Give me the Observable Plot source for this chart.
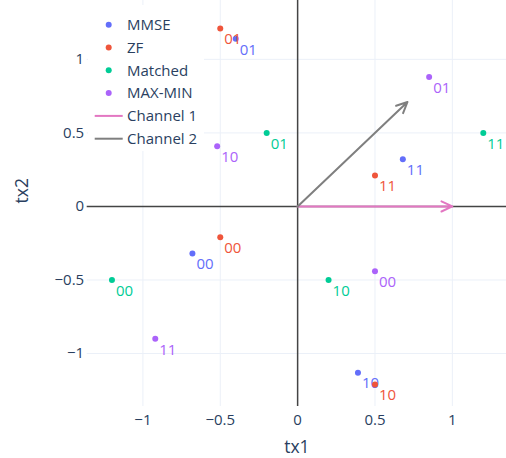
<!DOCTYPE html>
<html>
<head>
<meta charset="utf-8">
<script src="https://cdn.jsdelivr.net/npm/d3@7"></script>
<script src="https://cdn.jsdelivr.net/npm/@observablehq/plot@0.6"></script>
<style>
  html, body { margin: 0; padding: 0; background: #fff; }
  #wrap { position: relative; width: 506px; height: 458px; }
  #legend { position: absolute; left: 0; top: 0; }
</style>
</head>
<body>
<div id="wrap"></div>
<script>
// ---- data ----
const symbols = ["00", "01", "10", "11"];
const schemes = ["MMSE", "ZF", "Matched", "MAX-MIN"];
const schemeColors = ["#636efa", "#EF553B", "#00cc96", "#ab63fa"];

const mmseX = [-0.68, -0.40, 0.39, 0.68];
const mmseY = [-0.32, 1.14, -1.13, 0.32];
const zfX = [-0.50, -0.50, 0.50, 0.50];
const zfY = [-0.21, 1.21, -1.21, 0.21];
const matchedX = [-1.20, -0.20, 0.20, 1.20];
const matchedY = [-0.50, 0.50, -0.50, 0.50];
const maxminX = [0.50, 0.85, -0.52, -0.92];
const maxminY = [-0.44, 0.88, 0.41, -0.90];

const channels = ["Channel 1", "Channel 2"];
const channelColors = ["#e377c2", "#7f7f7f"];
const channelX = [1.0, 0.71];
const channelY = [0.0, 0.71];

const xTicks = [-1, -0.5, 0, 0.5, 1];
const yTicks = [-1, -0.5, 0, 0.5, 1];

// ---- build tables ----
const seriesX = [mmseX, zfX, matchedX, maxminX];
const seriesY = [mmseY, zfY, matchedY, maxminY];
const points = [];
schemes.forEach((s, i) => {
  symbols.forEach((lab, j) => {
    points.push({scheme: s, label: lab, x: seriesX[i][j], y: seriesY[i][j], color: schemeColors[i]});
  });
});
const arrows = channels.map((c, i) => ({name: c, x1: 0, y1: 0, x2: channelX[i], y2: channelY[i], color: channelColors[i]}));

const fmt = d => d < 0 ? "\u2212" + Math.abs(d) : String(d);
const textColor = "#2a3f5f";
const font = '"Open Sans", verdana, arial, sans-serif';

const seriesMarks = schemes.flatMap((s, i) => {
  const d = points.filter(p => p.scheme === s);
  return [
    Plot.dot(d, {x: "x", y: "y", r: 3, fill: "color", stroke: null}),
    Plot.text(d, {x: "x", y: "y", text: "label", fill: "color", dx: 4, dy: 11, textAnchor: "start", fontSize: 15})
  ];
});

const chart = Plot.plot({
  width: 506,
  height: 458,
  marginLeft: 86.7,
  marginRight: 0,
  marginTop: 0,
  marginBottom: 52,
  style: {fontFamily: font, fontSize: "15px", color: textColor, background: "white", overflow: "visible"},
  x: {domain: [-1.36, 1.35]},
  y: {domain: [-1.36, 1.40]},
  marks: [
    Plot.gridX(xTicks, {stroke: "#ebf0f8", strokeOpacity: 1, strokeWidth: 1}),
    Plot.gridY(yTicks, {stroke: "#ebf0f8", strokeOpacity: 1, strokeWidth: 1}),
    Plot.ruleX([0], {stroke: "#444", strokeWidth: 1.5}),
    Plot.ruleY([0], {stroke: "#444", strokeWidth: 1.5}),
    ...seriesMarks,
    Plot.arrow(arrows, {x1: "x1", y1: "y1", x2: "x2", y2: "y2", stroke: "color", strokeWidth: 2, headLength: 9, headAngle: 50}),
    Plot.axisX(xTicks, {tickSize: 0, tickPadding: 8, tickFormat: fmt, label: null, fill: textColor, fontSize: 15}),
    Plot.axisY(yTicks, {tickSize: 0, tickPadding: 3, tickFormat: fmt, label: null, fill: textColor, fontSize: 15}),
    Plot.text(["tx1"], {frameAnchor: "bottom", dy: 41, fontSize: 17.5, fill: textColor, lineAnchor: "middle"}),
    Plot.text(["tx2"], {frameAnchor: "left", dx: -65, rotate: -90, fontSize: 17.5, fill: textColor, lineAnchor: "middle"})
  ]
});

const wrap = document.getElementById("wrap");
wrap.appendChild(chart);

// ---- legend (overlay) ----
const leg = d3.select(wrap).append("svg")
  .attr("id", "legend")
  .attr("width", 506).attr("height", 160)
  .style("font-family", font).style("font-size", "15px");
leg.append("rect").attr("x", 88).attr("y", 5).attr("width", 116).attr("height", 146).attr("fill", "white");
const rowY = i => 24.7 + i * 22.8;
schemes.forEach((s, i) => {
  leg.append("circle").attr("cx", 108.7).attr("cy", rowY(i)).attr("r", 3).attr("fill", schemeColors[i]);
  leg.append("text").attr("x", 127).attr("y", rowY(i)).attr("dy", "0.35em").attr("fill", textColor).text(s);
});
channels.forEach((c, k) => {
  const i = schemes.length + k;
  leg.append("line").attr("x1", 94.7).attr("x2", 122.7).attr("y1", rowY(i)).attr("y2", rowY(i))
    .attr("stroke", channelColors[k]).attr("stroke-width", 2);
  leg.append("text").attr("x", 127).attr("y", rowY(i)).attr("dy", "0.35em").attr("fill", textColor).text(c);
});
</script>
</body>
</html>
